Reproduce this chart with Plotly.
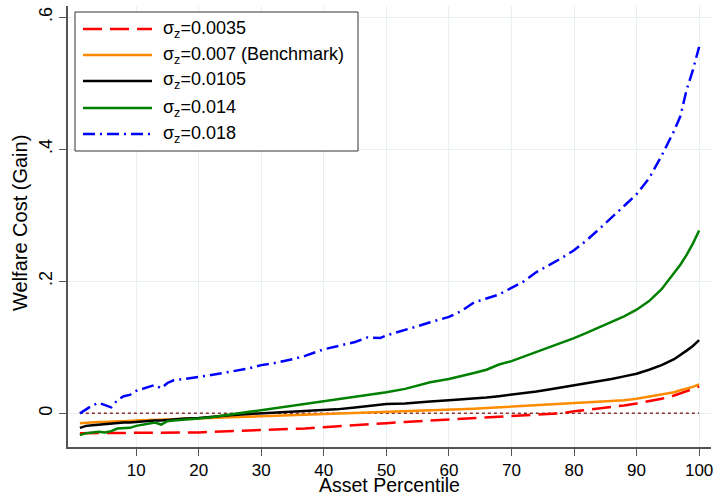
import plotly.graph_objects as go

# Asset percentiles at which each welfare curve is drawn
pct = [1, 2, 3, 4, 5, 6, 7, 8, 9, 10, 12, 13, 14, 15, 16, 18, 20, 22, 25, 28,
       30, 32, 35, 37, 40, 42, 45, 47, 49, 50, 53, 55, 57, 60, 62, 64, 66, 68,
       70, 72, 74, 76, 78, 80, 82, 84, 86, 88, 90, 92, 94, 96, 97, 98, 99, 100]

cost_00035 = [-0.030, -0.030, -0.030, -0.030, -0.030, -0.030, -0.030, -0.029, -0.029, -0.029,
              -0.029, -0.029, -0.029, -0.029, -0.029, -0.029, -0.029, -0.028, -0.027, -0.026,
              -0.026, -0.025, -0.024, -0.023, -0.021, -0.020, -0.018, -0.017, -0.016, -0.015,
              -0.013, -0.012, -0.011, -0.009, -0.008, -0.008, -0.007, -0.006, -0.004, -0.003,
              -0.002, -0.001, 0.000, 0.003, 0.005, 0.007, 0.009, 0.012, 0.015, 0.018,
              0.022, 0.027, 0.030, 0.034, 0.037, 0.041]

cost_0007 = [-0.015, -0.014, -0.014, -0.013, -0.013, -0.012, -0.012, -0.012, -0.011, -0.011,
             -0.010, -0.010, -0.009, -0.009, -0.009, -0.008, -0.008, -0.007, -0.006, -0.005,
             -0.005, -0.004, -0.003, -0.003, -0.002, -0.001, 0.000, 0.001, 0.001, 0.002,
             0.003, 0.003, 0.004, 0.005, 0.006, 0.007, 0.008, 0.009, 0.010, 0.011,
             0.012, 0.013, 0.014, 0.015, 0.016, 0.017, 0.019, 0.020, 0.022, 0.025,
             0.028, 0.032, 0.035, 0.037, 0.040, 0.044]

cost_00105 = [-0.022, -0.019, -0.018, -0.017, -0.017, -0.016, -0.015, -0.014, -0.014, -0.013,
              -0.012, -0.011, -0.011, -0.010, -0.009, -0.008, -0.007, -0.005, -0.003, -0.001,
              0.000, 0.001, 0.002, 0.003, 0.005, 0.006, 0.009, 0.011, 0.013, 0.014,
              0.015, 0.016, 0.018, 0.020, 0.021, 0.023, 0.024, 0.026, 0.028, 0.031,
              0.033, 0.036, 0.039, 0.042, 0.045, 0.048, 0.052, 0.056, 0.060, 0.066,
              0.073, 0.082, 0.088, 0.095, 0.102, 0.111]

cost_0014 = [-0.033, -0.030, -0.029, -0.028, -0.029, -0.027, -0.023, -0.023, -0.022, -0.019,
             -0.016, -0.014, -0.017, -0.012, -0.011, -0.010, -0.008, -0.006, -0.002, 0.002,
             0.005, 0.008, 0.012, 0.014, 0.018, 0.021, 0.025, 0.028, 0.031, 0.032,
             0.037, 0.042, 0.047, 0.052, 0.056, 0.061, 0.066, 0.074, 0.079, 0.086,
             0.092, 0.099, 0.107, 0.114, 0.122, 0.130, 0.138, 0.147, 0.157, 0.170,
             0.188, 0.212, 0.225, 0.240, 0.257, 0.277]

cost_0018 = [0.000, 0.006, 0.012, 0.016, 0.012, 0.009, 0.020, 0.026, 0.028, 0.034,
             0.040, 0.043, 0.038, 0.046, 0.050, 0.052, 0.055, 0.058, 0.063, 0.068,
             0.073, 0.076, 0.082, 0.087, 0.097, 0.101, 0.108, 0.115, 0.114, 0.118,
             0.126, 0.132, 0.138, 0.146, 0.155, 0.168, 0.174, 0.180, 0.190, 0.200,
             0.214, 0.224, 0.235, 0.247, 0.262, 0.279, 0.296, 0.314, 0.332, 0.356,
             0.390, 0.428, 0.450, 0.490, 0.520, 0.555]

series_labels = ["σ<sub>z</sub>=0.0035", "σ<sub>z</sub>=0.007 (Benchmark)",
                 "σ<sub>z</sub>=0.0105", "σ<sub>z</sub>=0.014", "σ<sub>z</sub>=0.018"]
series_values = [cost_00035, cost_0007, cost_00105, cost_0014, cost_0018]
series_colors = ["#ff0000", "#ff8c00", "#000000", "#008000", "#0000ff"]
series_dashes = ["19px,8px", "solid", "solid", "solid", "12px,5px,2px,5px"]

x_ticks = [10, 20, 30, 40, 50, 60, 70, 80, 90, 100]
y_ticks = [0, 0.2, 0.4, 0.6]
y_tick_text = ["0", ".2", ".4", ".6"]

FONT = "Liberation Sans, Arial, sans-serif"

fig = go.Figure()

# reference line at zero
fig.add_trace(go.Scatter(x=[pct[0], pct[-1]], y=[0, 0], mode="lines",
                         line=dict(color="#8b2f2f", width=1.5, dash="3px,3px"),
                         showlegend=False, hoverinfo="skip"))

for lab, vals, col, dash in zip(series_labels, series_values, series_colors, series_dashes):
    fig.add_trace(go.Scatter(x=pct, y=vals, mode="lines", name=lab,
                             line=dict(color=col, width=2.5, dash=dash),
                             showlegend=False))

# plot area in pixels: x 68..711, y 6..447
L, R, T, B = 68, 711, 6, 447
W, H = R - L, B - T


def px_x(p):
    return (p - L) / W


def px_y(p):
    return (B - p) / H


shapes = [dict(type="rect", xref="paper", yref="paper",
               x0=px_x(75), x1=px_x(358), y0=px_y(151), y1=px_y(12),
               line=dict(color="#333333", width=1), fillcolor="white", layer="above")]
annotations = []
rows = [29, 55, 81, 108, 134]
for lab, col, dash, ry in zip(series_labels, series_colors, series_dashes, rows):
    shapes.append(dict(type="line", xref="paper", yref="paper",
                       x0=px_x(83), x1=px_x(152), y0=px_y(ry), y1=px_y(ry),
                       line=dict(color=col, width=2.5, dash=dash), layer="above"))
    annotations.append(dict(xref="paper", yref="paper", x=px_x(161), y=px_y(ry),
                            text=lab, showarrow=False, xanchor="left", yanchor="middle",
                            font=dict(family=FONT, size=18, color="black")))

# axis titles
annotations.append(dict(xref="paper", yref="paper", x=px_x(389), y=px_y(497),
                        text="Asset Percentile", showarrow=False, borderpad=0,
                        xanchor="center", yanchor="bottom",
                        font=dict(family=FONT, size=19.5, color="black")))
annotations.append(dict(xref="paper", yref="paper", x=px_x(20), y=px_y(223),
                        text="Welfare Cost (Gain)", showarrow=False, textangle=-90,
                        xanchor="center", yanchor="middle",
                        font=dict(family=FONT, size=20, color="black")))

fig.update_layout(
    width=717, height=497,
    margin=dict(l=L, r=717 - R, t=T, b=497 - B),
    paper_bgcolor="white", plot_bgcolor="white",
    font=dict(family=FONT, color="black"),
    showlegend=False,
    shapes=shapes, annotations=annotations,
    xaxis=dict(range=[-0.9, 101.9], tickvals=x_ticks, ticks="outside", ticklen=7,
               tickcolor="#555555", tickwidth=1.2, automargin=False,
               showline=True, linecolor="#555555", linewidth=1.5,
               showgrid=True, gridcolor="#e8f0f2", gridwidth=1, zeroline=False,
               tickfont=dict(size=17, family=FONT)),
    yaxis=dict(range=[-0.051, 0.617], tickvals=y_ticks, ticktext=y_tick_text, tickangle=-90,
               ticks="outside", ticklen=7, tickcolor="#555555", tickwidth=1.2,
               automargin=False,
               showline=True, linecolor="#555555", linewidth=1.5,
               showgrid=True, gridcolor="#e8f0f2", gridwidth=1, zeroline=False,
               tickfont=dict(size=18, family=FONT)),
)

fig.write_html("out.html")
